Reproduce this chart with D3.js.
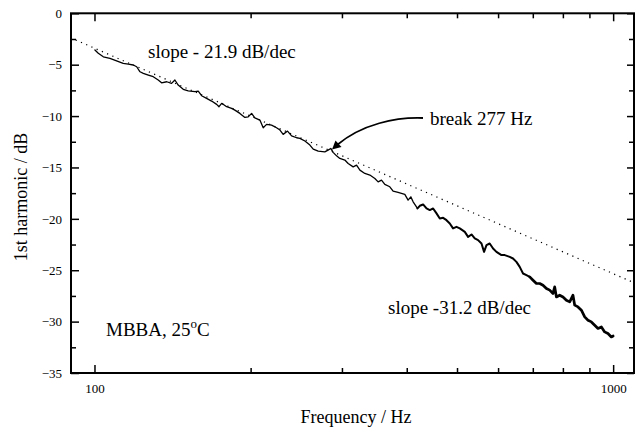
<!DOCTYPE html>
<html>
<head>
<meta charset="utf-8">
<script src="https://cdn.jsdelivr.net/npm/d3@7/dist/d3.min.js"></script>
<style>
  html, body { margin: 0; padding: 0; background: #fff; }
  svg { display: block; }
  text { font-family: "Liberation Serif", "Times New Roman", serif; fill: #000; }
</style>
</head>
<body>
<svg id="chart" width="643" height="433"></svg>
<script>
// ---- data ----
const freqHz = [
  100.2, 101.7, 104.0, 107.1, 110.3, 113.6, 116.2, 118.8, 120.6, 122.4,
  124.2, 127.0, 129.8, 132.7, 134.7, 137.8, 140.8, 142.9, 145.0, 148.3,
  151.6, 156.2, 158.5, 160.9, 164.5, 168.2, 172.0, 173.8, 175.9, 179.8,
  183.8, 186.5, 190.7, 195.0, 197.9, 200.9, 203.8, 208.4, 211.5, 214.7,
  219.5, 224.4, 227.8, 231.1, 235.6, 239.9, 245.3, 248.9, 254.5, 260.2,
  264.1, 270.0, 278.0, 282.1, 285.5, 288.5, 292.9, 297.2, 303.9, 308.4,
  315.3, 320.1, 324.9, 332.1, 339.6, 347.2, 352.3, 357.6, 362.9, 371.0,
  376.5, 384.9, 396.6, 402.4, 407.3, 411.5, 419.5, 423.9, 430.1, 436.7,
  443.1, 449.7, 456.5, 463.2, 470.1, 477.2, 484.2, 491.3, 498.8, 506.2,
  517.6, 525.2, 533.2, 541.0, 549.0, 557.4, 563.8, 569.9, 578.1, 586.8,
  595.7, 609.1, 618.0, 631.8, 641.1, 650.9, 660.5, 670.3, 680.5, 690.5,
  700.7, 711.3, 721.8, 732.4, 743.6, 754.5, 765.6, 771.5, 777.3, 788.7,
  800.4, 812.5, 824.6, 836.7, 843.1, 855.5, 868.5, 881.4, 894.3, 907.9,
  921.4, 934.9, 949.2, 963.0, 977.2, 992.0, 1000
];
const harmonicDb = [
  -3.57, -3.89, -4.23, -4.38, -4.62, -4.87, -4.94, -5.03, -5.20, -5.69,
  -5.84, -6.01, -6.17, -6.49, -6.76, -6.66, -6.82, -6.49, -6.98, -7.40,
  -7.54, -7.63, -7.57, -8.02, -8.28, -8.54, -8.86, -9.09, -8.76, -9.09,
  -9.25, -9.42, -9.74, -10.13, -10.07, -9.74, -10.17, -10.39, -11.14, -10.81,
  -10.88, -11.14, -11.36, -11.78, -11.46, -11.92, -12.11, -12.17, -12.43, -12.82,
  -13.21, -13.41, -13.48, -13.31, -13.15, -13.53, -13.87, -14.12, -14.28, -14.61,
  -14.94, -14.77, -15.26, -15.58, -15.74, -16.07, -16.40, -16.23, -16.65, -16.88,
  -17.30, -17.43, -17.62, -18.18, -17.86, -18.34, -18.99, -18.73, -18.60, -18.99,
  -19.15, -18.99, -19.47, -19.96, -19.90, -20.13, -20.45, -20.93, -20.78, -20.93,
  -21.27, -21.75, -21.52, -21.91, -22.07, -22.40, -23.21, -22.56, -22.40, -22.88,
  -23.21, -23.53, -23.53, -23.70, -23.86, -24.19, -24.67, -25.32, -25.48, -25.65,
  -25.97, -26.29, -26.29, -26.46, -26.78, -26.94, -27.26, -26.62, -27.60, -27.43,
  -27.60, -27.92, -28.08, -27.43, -28.40, -28.57, -28.89, -29.54, -29.86, -30.03,
  -30.35, -30.67, -30.52, -31.00, -31.16, -31.49, -31.40
];
// fitted low-frequency line (dotted), two end points
const fitFreq = [92, 1095];
const fitDb = [-2.6, -26.2];

const yMajorTicks = [0, -5, -10, -15, -20, -25, -30, -35];
const yMinorTicks = [-2.5, -7.5, -12.5, -17.5, -22.5, -27.5, -32.5];
const xMajorTicks = [100, 1000];
const xMinorTicks = [200, 300, 400, 500, 600, 700, 800, 900];

// ---- layout ----
const L = 71, R = 634, T = 13.3, B = 373;
const svg = d3.select("#chart");
const x = d3.scaleLog().domain([90.1, 1097]).range([L, R]);
const y = d3.scaleLinear().domain([0, -35]).range([T, B]);

function styleAxis(g) {
  g.select(".domain").remove();
  g.selectAll(".tick line").attr("stroke", "#000").attr("stroke-width", 1.5);
  g.selectAll(".tick text").style("font-family", '"Liberation Serif", serif')
    .style("font-size", "13px").attr("fill", "#000");
}

// left
svg.append("g").attr("transform", `translate(${L},0)`)
  .call(d3.axisLeft(y).tickValues(yMajorTicks).tickSize(-8).tickPadding(9).tickFormat(d3.format("d")))
  .call(styleAxis);
svg.append("g").attr("transform", `translate(${L},0)`)
  .call(d3.axisLeft(y).tickValues(yMinorTicks).tickSize(-5).tickFormat(""))
  .call(styleAxis);
// right
svg.append("g").attr("transform", `translate(${R},0)`)
  .call(d3.axisRight(y).tickValues(yMajorTicks).tickSize(-7).tickFormat(""))
  .call(styleAxis);
svg.append("g").attr("transform", `translate(${R},0)`)
  .call(d3.axisRight(y).tickValues(yMinorTicks).tickSize(-5).tickFormat(""))
  .call(styleAxis);
// bottom
svg.append("g").attr("transform", `translate(0,${B})`)
  .call(d3.axisBottom(x).tickValues(xMajorTicks).tickSize(-8).tickPadding(11).tickFormat(d3.format("d")))
  .call(styleAxis);
svg.append("g").attr("transform", `translate(0,${B})`)
  .call(d3.axisBottom(x).tickValues(xMinorTicks).tickSize(-5).tickFormat(""))
  .call(styleAxis);
// top
svg.append("g").attr("transform", `translate(0,${T})`)
  .call(d3.axisTop(x).tickValues(xMajorTicks).tickSize(-8).tickFormat(""))
  .call(styleAxis);
svg.append("g").attr("transform", `translate(0,${T})`)
  .call(d3.axisTop(x).tickValues(xMinorTicks).tickSize(-5).tickFormat(""))
  .call(styleAxis);

// frame
svg.append("rect").attr("x", L).attr("y", T).attr("width", R - L).attr("height", B - T)
  .attr("fill", "none").attr("stroke", "#000").attr("stroke-width", 2);

// dotted fit line
const fitData = fitFreq.map((f, i) => ({ f, v: fitDb[i] }));
svg.append("path").datum(fitData)
  .attr("d", d3.line().x(d => x(d.f)).y(d => y(d.v)))
  .attr("fill", "none").attr("stroke", "#000").attr("stroke-width", 1.2)
  .attr("stroke-dasharray", "1.2,4.5");

// measured curve: thin where quiet, heavier where the trace is noisy
const data = freqHz.map((f, i) => ({ f, v: harmonicDb[i] }));
const line = d3.line().x(d => x(d.f)).y(d => y(d.v));
const segs = [
  { lo: 0, hi: 420, w: 1.3 },
  { lo: 419.5, hi: 700, w: 2.0 },
  { lo: 690.5, hi: 2000, w: 2.7 }
];
segs.forEach(s => {
  svg.append("path").datum(data.filter(d => d.f >= s.lo && d.f <= s.hi))
    .attr("d", line)
    .attr("fill", "none").attr("stroke", "#000").attr("stroke-width", s.w)
    .attr("stroke-linejoin", "round").attr("stroke-linecap", "round");
});

// annotations
const ann = svg.append("g").style("font-size", "19px");
ann.append("text").attr("x", 148).attr("y", 58).text("slope - 21.9 dB/dec");
ann.append("text").attr("x", 430).attr("y", 125).text("break 277 Hz");
ann.append("text").attr("x", 388).attr("y", 314).text("slope -31.2 dB/dec");
const mb = ann.append("text").attr("x", 106).attr("y", 336);
mb.append("tspan").text("MBBA, 25");
mb.append("tspan").attr("dy", -8).style("font-size", "13px").text("o");
mb.append("tspan").attr("dy", 8).text("C");

// arrow
svg.append("path").attr("d", "M423,118 C396,117 362,124 337,145")
  .attr("fill", "none").attr("stroke", "#000").attr("stroke-width", 1.8);
svg.append("path").attr("d", "M332,149.5 L335.5,140.5 L341.5,147 Z").attr("fill", "#000");

// axis titles
svg.append("text").attr("x", 356).attr("y", 423).attr("text-anchor", "middle")
  .style("font-size", "18px").text("Frequency / Hz");
svg.append("text").attr("transform", "translate(27,197) rotate(-90)").attr("text-anchor", "middle")
  .style("font-size", "18px").text("1st harmonic / dB");
</script>
</body>
</html>
